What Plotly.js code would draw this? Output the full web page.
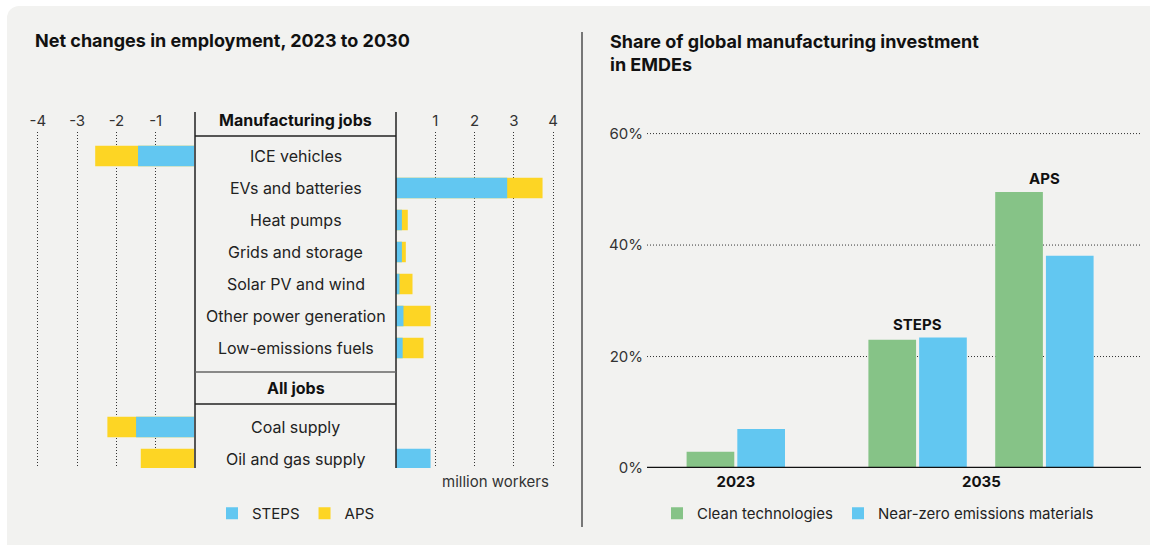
<!DOCTYPE html>
<html><head><meta charset="utf-8">
<script src="https://cdn.plot.ly/plotly-3.0.1.min.js"></script>
<style>
html,body{margin:0;padding:0;background:#ffffff;}
#panel{position:absolute;left:7px;top:6px;width:1143px;height:539px;background:#f2f2f0;border-top-left-radius:12px;}
#chart{position:absolute;left:0;top:0;width:1150px;height:545px;}
</style></head><body>
<div id="panel"></div><div id="chart"></div>
<script>
// ---------- data ----------
const mfgCategories = ["ICE vehicles", "EVs and batteries", "Heat pumps", "Grids and storage", "Solar PV and wind", "Other power generation", "Low-emissions fuels"];
const allJobsCategories = ["Coal supply", "Oil and gas supply"];
const mfgSteps = [-1.45, 2.83, 0.15, 0.15, 0.09, 0.19, 0.17];
const mfgAps   = [-2.54, 3.73, 0.30, 0.25, 0.42, 0.88, 0.70];
const allSteps = [-1.50, 0.88];
const allAps   = [-2.23, -1.38];
const negTicks = [-4, -3, -2, -1];
const posTicks = [1, 2, 3, 4];

const shareGroups = ["2023", "STEPS", "APS"];
const cleanTech = [2.9, 23.0, 49.5];
const nearZero  = [7.0, 23.4, 38.1];
const shareTicks = [0, 20, 40, 60];

// ---------- styling / layout helpers ----------
const W = 1150, H = 545;
const px = x => x / W;
const py = y => 1 - y / H;
const FONT = 'Inter, "Noto Sans", sans-serif';
const BLUE = '#62c7f1', YELLOW = '#fdd524', GREEN = '#86c387';
const TXT = '#222222';
const DOTS = '1px,2px';

const rowNames = mfgCategories.concat(allJobsCategories);
const stepsVals = mfgSteps.concat(allSteps);
const apsVals = mfgAps.concat(allAps);
const SECTION_SHIFT = 1.47;
const rowY = rowNames.map((_, i) => i < mfgCategories.length ? i : i + SECTION_SHIFT);
const neg = v => v.map(d => d < 0 ? d : null);
const pos = v => v.map(d => d > 0 ? d : null);

function hbar(name, vals, color, axis, show, rank) {
  return {type: 'bar', orientation: 'h', name: name, x: vals, y: rowY,
    xaxis: axis, yaxis: 'y', marker: {color: color}, width: 0.64, offset: -0.32,
    legendgroup: name, showlegend: show, legendrank: rank, legend: 'legend',
    hovertemplate: name + ': %{x}<extra></extra>'};
}
const traces = [
  hbar('APS', neg(apsVals), YELLOW, 'x', true, 2),
  hbar('APS', pos(apsVals), YELLOW, 'x2', false, 2),
  hbar('STEPS', neg(stepsVals), BLUE, 'x', true, 1),
  hbar('STEPS', pos(stepsVals), BLUE, 'x2', false, 1),
  {type: 'bar', name: 'Clean technologies', x: shareGroups.slice(0, 1), y: cleanTech.slice(0, 1),
    xaxis: 'x3', yaxis: 'y2', marker: {color: GREEN}, legend: 'legend2', legendgroup: 'clean'},
  {type: 'bar', name: 'Near-zero emissions materials', x: shareGroups.slice(0, 1), y: nearZero.slice(0, 1),
    xaxis: 'x3', yaxis: 'y2', marker: {color: BLUE}, legend: 'legend2', legendgroup: 'near'},
  {type: 'bar', name: 'Clean technologies', x: shareGroups.slice(1), y: cleanTech.slice(1),
    xaxis: 'x4', yaxis: 'y2', marker: {color: GREEN}, legend: 'legend2', legendgroup: 'clean', showlegend: false},
  {type: 'bar', name: 'Near-zero emissions materials', x: shareGroups.slice(1), y: nearZero.slice(1),
    xaxis: 'x4', yaxis: 'y2', marker: {color: BLUE}, legend: 'legend2', legendgroup: 'near', showlegend: false}
];

const PXU = 39.29; // pixels per million workers
const leftAxis = {domain: [px(30), px(195)], range: [-(195 - 30) / PXU, 0], anchor: 'y', side: 'top',
  tickvals: negTicks, ticktext: negTicks.map(String), showgrid: true, gridcolor: '#333', griddash: DOTS, gridwidth: 1,
  zeroline: false, showline: false, ticks: '', ticklabelstandoff: 2, tickfont: {size: 15, color: '#333', family: FONT}, fixedrange: true};
const rightAxis = Object.assign({}, leftAxis, {domain: [px(396), px(560)], range: [0, (560 - 396) / PXU],
  tickvals: posTicks, ticktext: posTicks.map(String), anchor: 'y'});

const annotations = [];
function note(o) { annotations.push(Object.assign({showarrow: false, xanchor: 'center', yanchor: 'middle'}, o)); }
note({xref: 'paper', yref: 'paper', x: px(33), y: py(41), xanchor: 'left',
  text: '<b>Net changes in employment, 2023 to 2030</b>', font: {size: 18, color: '#111', family: FONT}});
note({xref: 'paper', yref: 'paper', x: px(608), y: py(29), xanchor: 'left', yanchor: 'top', align: 'left',
  text: '<b>Share of global manufacturing investment<br>in EMDEs</b>', font: {size: 18, color: '#111', family: FONT}});
note({xref: 'paper', yref: 'paper', x: px(295.5), y: py(120), text: '<b>Manufacturing jobs</b>',
  font: {size: 16, color: '#111', family: FONT}});
note({xref: 'paper', yref: 'y', x: px(295.5), y: (6.75 + 7.75) / 2, text: '<b>All jobs</b>',
  font: {size: 16, color: '#111', family: FONT}});
rowNames.forEach((n, i) => note({xref: 'paper', yref: 'y', x: px(295.5), y: rowY[i], text: n,
  font: {size: 16, color: TXT, family: FONT}}));
note({xref: 'paper', yref: 'paper', x: px(495), y: py(481), text: 'million workers',
  font: {size: 15, color: '#333', family: FONT}});
shareGroups.slice(1).forEach((g, i) => note({xref: 'x4', yref: 'y2', x: g,
  y: Math.max(cleanTech[i + 1], nearZero[i + 1]), yanchor: 'bottom', yshift: 2, text: '<b>' + g + '</b>',
  font: {size: 15, color: '#111', family: FONT}}));
note({xref: 'x4 domain', yref: 'paper', x: 0.5, y: py(481), text: '<b>2035</b>',
  font: {size: 15, color: '#111', family: FONT}});

const shapes = [];
shapes.push({type: 'line', xref: 'paper', yref: 'paper', x0: px(195), x1: px(195), y0: py(112), y1: py(468), line: {color: '#555', width: 2}});
shapes.push({type: 'line', xref: 'paper', yref: 'paper', x0: px(396), x1: px(396), y0: py(112), y1: py(468), line: {color: '#222', width: 1.5}});
[-0.625, 6.75, 7.75].forEach((yy, k) => shapes.push({type: 'line', xref: 'paper', yref: 'y', x0: px(195), x1: px(396), y0: yy, y1: yy,
  line: {color: k === 1 ? '#666' : '#222', width: 1.5}}));
shapes.push({type: 'line', xref: 'paper', yref: 'paper', x0: px(582), x1: px(582), y0: py(32), y1: py(527), line: {color: '#777', width: 2}});
shareTicks.slice(1).forEach(t => shapes.push({type: 'line', xref: 'paper', yref: 'y2', x0: px(647), x1: px(1141), y0: t, y1: t,
  layer: 'below', line: {color: '#333', width: 1, dash: DOTS}}));
shapes.push({type: 'line', xref: 'paper', yref: 'y2', x0: px(647), x1: px(1141), y0: 0, y1: 0, line: {color: '#111', width: 2.5}});

const layout = {
  width: W, height: H, margin: {l: 0, r: 0, t: 0, b: 0},
  paper_bgcolor: 'rgba(0,0,0,0)', plot_bgcolor: 'rgba(0,0,0,0)',
  font: {family: FONT, color: TXT},
  barmode: 'group', bargap: 0.2, bargroupgap: 0.06,
  xaxis: leftAxis,
  xaxis2: rightAxis,
  yaxis: {domain: [py(468), py(132)], range: [9.75, -0.75], visible: false, fixedrange: true},
  xaxis3: {domain: [px(672.4), px(799.2)], anchor: 'y2', showgrid: false, zeroline: false, showline: false, ticks: '',
    ticklabelstandoff: 3, tickfont: {size: 15, color: '#111', family: FONT, weight: 'bold'}, fixedrange: true},
  xaxis4: {domain: [px(854.2), px(1107.8)], anchor: 'y2', showgrid: false, zeroline: false, showline: false, ticks: '',
    showticklabels: false, fixedrange: true},
  yaxis2: {domain: [py(468), py(128)], range: [0, 61], anchor: 'free', position: px(647), side: 'left',
    tickvals: shareTicks, ticktext: shareTicks.map(t => t + '%'), showgrid: false, zeroline: false, showline: false,
    ticks: '', ticklabelstandoff: 4, tickfont: {size: 15, color: '#333', family: FONT}, fixedrange: true},
  legend: {orientation: 'h', x: px(212), y: py(497), xanchor: 'left', yanchor: 'top', bgcolor: 'rgba(0,0,0,0)',
    font: {size: 15, color: TXT, family: FONT}, traceorder: 'normal'},
  legend2: {orientation: 'h', x: px(657), y: py(497), xanchor: 'left', yanchor: 'top', bgcolor: 'rgba(0,0,0,0)',
    font: {size: 15, color: TXT, family: FONT}, traceorder: 'normal'},
  annotations: annotations, shapes: shapes, showlegend: true
};
Plotly.newPlot('chart', traces, layout, {displayModeBar: false});
</script>
</body></html>
